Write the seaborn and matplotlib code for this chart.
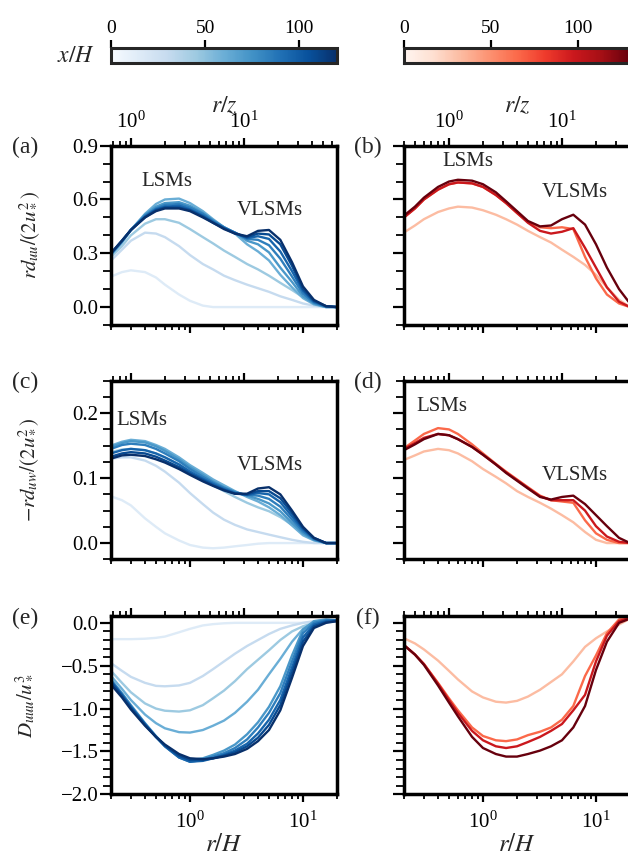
import numpy as np
import pandas as pd
import seaborn as sns
import matplotlib.pyplot as plt
from matplotlib import ticker
from matplotlib.colors import Normalize
from matplotlib.cm import ScalarMappable

sns.set_style('ticks')
plt.rcParams['font.family'] = ['Liberation Serif', 'DejaVu Serif']
plt.rcParams['mathtext.fontset'] = 'stix'

r_grid = [0.2, 0.25, 0.3, 0.4, 0.5, 0.6, 0.8, 1.0, 1.3, 1.6, 2.0, 2.5, 3.2, 4.0,
          5.0, 6.3, 8.0, 10.0, 12.5, 16.0, 20.0]

# downstream stations x/H (colour of each curve)
xh_left = [15, 30, 45, 60, 72, 84, 96, 108, 120]
xh_right = [32, 65, 98, 130]

# height used for the top axis r/z
z_left = 0.3
z_right = 0.5

# (a) r d_uu / (2 u*^2)
duu_left = [
    [0.17, 0.195, 0.205, 0.195, 0.165, 0.125, 0.07, 0.035, 0.008, 0.0, 0.0, 0.0, 0.0, 0.0, 0.0, 0.0, 0.0, 0.0, 0.0, 0.0, 0.0],
    [0.26, 0.32, 0.37, 0.415, 0.41, 0.39, 0.34, 0.29, 0.24, 0.21, 0.175, 0.15, 0.125, 0.105, 0.085, 0.06, 0.04, 0.02, 0.008, 0.0, 0.0],
    [0.28, 0.34, 0.40, 0.465, 0.49, 0.49, 0.47, 0.435, 0.39, 0.355, 0.315, 0.28, 0.24, 0.21, 0.175, 0.135, 0.095, 0.055, 0.025, 0.005, 0.0],
    [0.29, 0.36, 0.43, 0.52, 0.575, 0.60, 0.605, 0.58, 0.535, 0.49, 0.445, 0.41, 0.35, 0.31, 0.26, 0.18, 0.11, 0.05, 0.015, 0.0, 0.0],
    [0.295, 0.365, 0.43, 0.515, 0.56, 0.58, 0.585, 0.565, 0.525, 0.485, 0.445, 0.415, 0.37, 0.35, 0.305, 0.22, 0.14, 0.06, 0.02, 0.0, 0.0],
    [0.295, 0.365, 0.43, 0.51, 0.55, 0.57, 0.575, 0.555, 0.52, 0.48, 0.445, 0.415, 0.38, 0.375, 0.345, 0.27, 0.17, 0.075, 0.025, 0.003, 0.0],
    [0.30, 0.37, 0.43, 0.505, 0.545, 0.56, 0.565, 0.545, 0.51, 0.475, 0.44, 0.415, 0.385, 0.395, 0.38, 0.31, 0.20, 0.09, 0.03, 0.004, 0.0],
    [0.30, 0.37, 0.43, 0.50, 0.54, 0.555, 0.555, 0.54, 0.505, 0.47, 0.44, 0.41, 0.39, 0.41, 0.405, 0.35, 0.23, 0.10, 0.035, 0.005, 0.0],
    [0.30, 0.37, 0.43, 0.50, 0.535, 0.55, 0.55, 0.535, 0.50, 0.47, 0.435, 0.41, 0.395, 0.425, 0.43, 0.375, 0.25, 0.115, 0.04, 0.005, 0.0],
]
# (b)
duu_right = [
    [0.416, 0.455, 0.49, 0.53, 0.55, 0.56, 0.555, 0.54, 0.515, 0.49, 0.46, 0.425, 0.39, 0.36, 0.32, 0.28, 0.235, 0.18, 0.11, 0.04, 0.0],
    [0.50, 0.55, 0.60, 0.655, 0.685, 0.695, 0.69, 0.67, 0.625, 0.58, 0.525, 0.475, 0.445, 0.44, 0.445, 0.435, 0.28, 0.16, 0.07, 0.02, 0.0],
    [0.50, 0.55, 0.60, 0.655, 0.685, 0.695, 0.69, 0.67, 0.625, 0.58, 0.525, 0.47, 0.425, 0.41, 0.42, 0.44, 0.33, 0.22, 0.11, 0.03, 0.0],
    [0.51, 0.56, 0.61, 0.67, 0.70, 0.71, 0.705, 0.685, 0.64, 0.59, 0.535, 0.48, 0.45, 0.455, 0.49, 0.515, 0.46, 0.35, 0.22, 0.10, 0.02],
]

# (c) -r d_uw / (2 u*^2)
duw_left = [
    [0.072, 0.066, 0.058, 0.038, 0.025, 0.015, 0.004, -0.003, -0.007, -0.008, -0.007, -0.005, -0.003, -0.001, 0.0, 0.0, 0.0, 0.0, 0.0, 0.0, 0.0],
    [0.13, 0.132, 0.132, 0.127, 0.119, 0.11, 0.093, 0.077, 0.06, 0.047, 0.036, 0.028, 0.021, 0.017, 0.013, 0.009, 0.005, 0.002, 0.0, 0.0, 0.0],
    [0.14, 0.144, 0.145, 0.143, 0.138, 0.132, 0.121, 0.11, 0.098, 0.089, 0.08, 0.071, 0.062, 0.055, 0.049, 0.04, 0.028, 0.016, 0.006, 0.0, 0.0],
    [0.15, 0.156, 0.159, 0.157, 0.151, 0.145, 0.132, 0.12, 0.108, 0.098, 0.089, 0.08, 0.071, 0.064, 0.055, 0.043, 0.027, 0.012, 0.004, 0.0, 0.0],
    [0.148, 0.154, 0.157, 0.155, 0.149, 0.142, 0.129, 0.117, 0.105, 0.095, 0.086, 0.079, 0.073, 0.068, 0.061, 0.049, 0.031, 0.015, 0.005, 0.0, 0.0],
    [0.145, 0.151, 0.153, 0.151, 0.145, 0.138, 0.126, 0.114, 0.102, 0.093, 0.085, 0.078, 0.074, 0.073, 0.068, 0.056, 0.036, 0.018, 0.006, 0.0, 0.0],
    [0.138, 0.143, 0.145, 0.143, 0.138, 0.132, 0.121, 0.11, 0.099, 0.091, 0.083, 0.077, 0.074, 0.077, 0.075, 0.063, 0.041, 0.021, 0.007, 0.0, 0.0],
    [0.133, 0.138, 0.14, 0.138, 0.133, 0.127, 0.117, 0.107, 0.097, 0.089, 0.082, 0.076, 0.075, 0.08, 0.08, 0.069, 0.046, 0.023, 0.008, 0.0, 0.0],
    [0.13, 0.135, 0.136, 0.134, 0.129, 0.124, 0.114, 0.105, 0.095, 0.088, 0.081, 0.076, 0.076, 0.084, 0.086, 0.075, 0.05, 0.025, 0.008, 0.0, 0.0],
]
# (d)
duw_right = [
    [0.128, 0.135, 0.141, 0.145, 0.143, 0.138, 0.126, 0.114, 0.102, 0.092, 0.08, 0.071, 0.062, 0.053, 0.043, 0.032, 0.017, 0.005, 0.0, 0.0, 0.0],
    [0.146, 0.158, 0.168, 0.177, 0.175, 0.168, 0.152, 0.138, 0.122, 0.11, 0.098, 0.086, 0.073, 0.066, 0.064, 0.062, 0.035, 0.015, 0.005, 0.0, 0.0],
    [0.145, 0.154, 0.162, 0.168, 0.166, 0.160, 0.148, 0.136, 0.121, 0.109, 0.097, 0.085, 0.072, 0.066, 0.066, 0.066, 0.05, 0.026, 0.01, 0.002, 0.0],
    [0.143, 0.152, 0.160, 0.168, 0.166, 0.160, 0.148, 0.136, 0.121, 0.108, 0.096, 0.084, 0.071, 0.067, 0.071, 0.073, 0.06, 0.043, 0.026, 0.008, 0.0],
]

# (e) D_uuu / u*^3
duuu_left = [
    [-0.19, -0.19, -0.19, -0.185, -0.175, -0.16, -0.11, -0.07, -0.03, -0.015, -0.005, 0.0, 0.0, 0.0, 0.0, 0.0, 0.0, 0.0, 0.01, 0.02, 0.03],
    [-0.47, -0.56, -0.63, -0.70, -0.735, -0.74, -0.73, -0.70, -0.62, -0.54, -0.45, -0.36, -0.27, -0.2, -0.13, -0.07, -0.03, 0.0, 0.02, 0.03, 0.03],
    [-0.56, -0.70, -0.81, -0.94, -1.0, -1.025, -1.035, -1.02, -0.96, -0.88, -0.79, -0.68, -0.54, -0.43, -0.32, -0.2, -0.1, -0.04, 0.0, 0.02, 0.03],
    [-0.62, -0.77, -0.90, -1.07, -1.17, -1.23, -1.275, -1.28, -1.25, -1.20, -1.14, -1.05, -0.92, -0.78, -0.6, -0.42, -0.22, -0.07, 0.0, 0.03, 0.03],
    [-0.66, -0.82, -0.96, -1.17, -1.32, -1.43, -1.56, -1.60, -1.58, -1.54, -1.49, -1.42, -1.30, -1.16, -0.98, -0.74, -0.38, -0.08, 0.02, 0.04, 0.03],
    [-0.67, -0.83, -0.97, -1.18, -1.33, -1.44, -1.57, -1.62, -1.60, -1.56, -1.52, -1.46, -1.36, -1.22, -1.05, -0.82, -0.45, -0.12, 0.0, 0.03, 0.03],
    [-0.68, -0.84, -0.98, -1.18, -1.33, -1.44, -1.57, -1.62, -1.61, -1.58, -1.54, -1.49, -1.41, -1.29, -1.13, -0.9, -0.52, -0.17, -0.02, 0.02, 0.03],
    [-0.69, -0.85, -0.99, -1.19, -1.33, -1.43, -1.55, -1.60, -1.60, -1.58, -1.55, -1.51, -1.44, -1.34, -1.19, -0.96, -0.58, -0.22, -0.04, 0.01, 0.02],
    [-0.72, -0.87, -1.01, -1.20, -1.33, -1.42, -1.53, -1.58, -1.59, -1.58, -1.56, -1.53, -1.47, -1.38, -1.25, -1.02, -0.64, -0.27, -0.06, 0.0, 0.02],
]
# (f)
duuu_right = [
    [-0.18, -0.24, -0.31, -0.44, -0.56, -0.66, -0.80, -0.87, -0.92, -0.93, -0.91, -0.86, -0.78, -0.69, -0.60, -0.45, -0.28, -0.18, -0.10, -0.02, 0.05],
    [-0.26, -0.37, -0.48, -0.70, -0.88, -1.02, -1.22, -1.32, -1.37, -1.38, -1.36, -1.31, -1.27, -1.22, -1.13, -0.97, -0.62, -0.38, -0.12, 0.04, 0.06],
    [-0.26, -0.37, -0.48, -0.71, -0.90, -1.05, -1.26, -1.37, -1.44, -1.46, -1.44, -1.39, -1.33, -1.26, -1.18, -1.02, -0.84, -0.45, -0.15, 0.02, 0.06],
    [-0.26, -0.37, -0.49, -0.73, -0.93, -1.09, -1.33, -1.46, -1.53, -1.56, -1.56, -1.53, -1.49, -1.44, -1.37, -1.22, -0.97, -0.55, -0.22, 0.0, 0.05],
]

ylabels = [r'$rd_{uu}/(2u_*^2)$', r'$-rd_{uw}/(2u_*^2)$', r'$D_{uuu}/u_*^3$']
panel_tags = [['(a)', '(b)'], ['(c)', '(d)'], ['(e)', '(f)']]


def long_frame(curves, xh):
    return pd.DataFrame({
        'r': np.tile(r_grid, len(curves)),
        'val': np.concatenate(curves),
        'xH': np.repeat(xh, len(r_grid)),
    })


def minus_fmt(v, pos):
    if abs(v) < 1e-9:
        v = 0.0
    return f'{v:.1f}'.replace('-', '\u2212')


W, H = 628, 865
fig = plt.figure(figsize=(W / 100, H / 100), dpi=100)


def px_axes(x0, y0, x1, y1):
    return fig.add_axes([x0 / W, 1 - y1 / H, (x1 - x0) / W, (y1 - y0) / H])


rows = [(145.7, 325.0), (380.7, 559.3), (616.0, 794.3)]
cols = [(111.0, 337.0), (404.0, 630.0)]
ylims = [(-0.1, 0.9), (-0.025, 0.25), (-2.0, 0.08)]
ymajor = [0.3, 0.1, 0.5]
yminor = [0.1, 0.025, 0.1]
data = [[duu_left, duu_right], [duw_left, duw_right], [duuu_left, duuu_right]]
ylab_x = [29, 28, 24]
tag_x = [25, 367.5]

notes = {
    (0, 0): [(0.625, 0.70, 'LSMs'), (5.13, 0.537, 'VLSMs')],
    (0, 1): [(0.734, 0.811, 'LSMs'), (6.46, 0.639, 'VLSMs')],
    (1, 0): [(0.375, 0.189, 'LSMs'), (5.13, 0.12, 'VLSMs')],
    (1, 1): [(0.437, 0.21, 'LSMs'), (6.46, 0.104, 'VLSMs')],
}

for i, (top, bot) in enumerate(rows):
    for j, (left, right) in enumerate(cols):
        ax = px_axes(left, top, right, bot)
        xh = xh_left if j == 0 else xh_right
        cmap = 'Blues' if j == 0 else 'Reds'
        vmax = 120 if j == 0 else 130
        df = long_frame(data[i][j], xh)
        sns.lineplot(data=df, x='r', y='val', hue='xH', palette=cmap,
                     hue_norm=(0, vmax), estimator=None, legend=False,
                     linewidth=1.7, ax=ax)
        ax.set_xscale('log')
        ax.set_xlim(0.2, 20)
        ax.set_ylim(*ylims[i])
        ax.set_xlabel('')
        ax.set_ylabel('')
        ax.yaxis.set_major_locator(ticker.MultipleLocator(ymajor[i]))
        ax.yaxis.set_minor_locator(ticker.MultipleLocator(yminor[i]))
        ax.yaxis.set_major_formatter(ticker.FuncFormatter(minus_fmt))
        for s in ax.spines.values():
            s.set_linewidth(2.5)
            s.set_visible(True)
            s.set_color('black')
        ax.tick_params(axis='x', which='major', length=5.5, width=1.6,
                       direction='out', labelsize=15, pad=7, colors='black')
        ax.tick_params(axis='x', which='minor', length=3.8, width=1.3,
                       direction='out', colors='black')
        ax.tick_params(axis='y', which='major', length=8, width=1.6,
                       direction='out', labelsize=15, pad=1, colors='black')
        ax.tick_params(axis='y', which='minor', length=5.5, width=1.3,
                       direction='out', colors='black')
        if i < 2:
            ax.tick_params(labelbottom=False)
        else:
            ax.set_xlabel(r'$r/H$', fontsize=18, labelpad=1)
        if j == 1:
            ax.tick_params(labelleft=False)
        else:
            fig.text(ylab_x[i] / W, 1 - (top + bot) / 2 / H, ylabels[i],
                     rotation=90, ha='center', va='center', fontsize=15)

        # top axis in r/z
        zh = z_left if j == 0 else z_right
        tw = ax.twiny()
        tw.set_xscale('log')
        tw.set_xlim(0.2 / zh, 20 / zh)
        for s in tw.spines.values():
            s.set_visible(False)
        tw.tick_params(which='major', length=5.5, width=1.6, direction='out',
                       labelsize=15, pad=4, colors='black')
        tw.tick_params(which='minor', length=3.8, width=1.3, direction='out',
                       colors='black')
        if i == 0:
            tw.set_xlabel(r'$r/z$', fontsize=17, labelpad=-1)
        else:
            tw.tick_params(labeltop=False)

        fig.text(tag_x[j] / W, 1 - (top + 2) / H, panel_tags[i][j],
                 ha='center', va='center', fontsize=17)
        for rx, vy, txt in notes.get((i, j), []):
            ax.text(rx, vy, txt, ha='center', va='center', fontsize=15)

# colour bars for x/H
for (left, right), cmap, vmax in [(cols[0], 'Blues', 120), (cols[1], 'Reds', 130)]:
    cax = px_axes(left, 48, right, 63)
    cb = fig.colorbar(ScalarMappable(norm=Normalize(0, vmax), cmap=cmap),
                      cax=cax, orientation='horizontal')
    cb.set_ticks([0, 50, 100])
    cax.xaxis.set_ticks_position('top')
    cax.tick_params(length=6, width=1.6, labelsize=14, pad=2, colors='black')
    cb.outline.set_linewidth(2.2)

fig.text(76 / W, 1 - 56 / H, r'$x/H$', ha='center', va='center', fontsize=17)

plt.savefig('out.png', dpi=100)
